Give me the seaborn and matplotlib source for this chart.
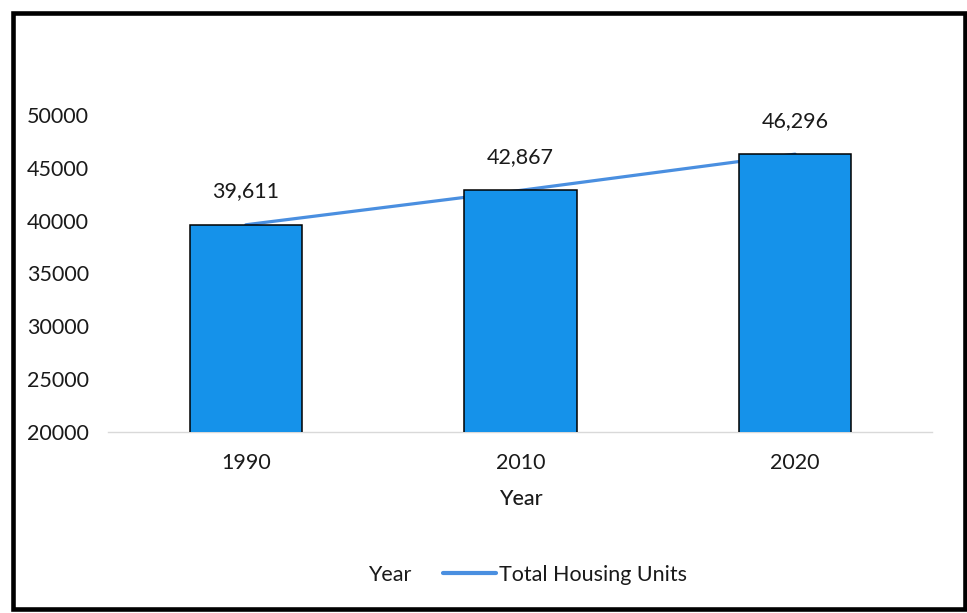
import matplotlib
matplotlib.use("Agg")
import numpy as np
import pandas as pd
import matplotlib.pyplot as plt
import seaborn as sns
from matplotlib.lines import Line2D
from matplotlib.patches import Rectangle

# Housing units by census year
years = ["1990", "2010", "2020"]
housing_units = [39611, 42867, 46296]
y_ticks = [20000, 25000, 30000, 35000, 40000, 45000, 50000]

BAR_COLOR = "#1592EA"
LINE_COLOR = "#4A8FE0"
TEXT_COLOR = "#1a1a1a"
FS = 15.5

sns.set_theme(style="white")
plt.rcParams["font.family"] = ["Lato", "DejaVu Sans"]

df = pd.DataFrame({"Year": years, "Units": housing_units})

fig = plt.figure(figsize=(9.67, 6.13), dpi=100)
ax = fig.add_axes([0.1122, 0.2953, 0.8521, 0.5171])

sns.barplot(data=df, x="Year", y="Units", order=years, color=BAR_COLOR,
            saturation=1, width=0.41, edgecolor="black", linewidth=1.1, ax=ax)
for p in ax.patches:
    p.set_zorder(3)

# Trend line through the bar tops, drawn behind the bars
sns.lineplot(x=np.arange(len(years)), y=housing_units, color=LINE_COLOR,
             linewidth=2.3, zorder=2, ax=ax, legend=False)

for i, v in enumerate(housing_units):
    ax.annotate(f"{v:,}", xy=(i, v), xytext=(0, 24), textcoords="offset points",
                ha="center", va="center", fontsize=FS, color=TEXT_COLOR)

ax.set_xlim(-0.5, len(years) - 0.5)
ax.set_ylim(y_ticks[0], y_ticks[-1])
ax.set_yticks(y_ticks)
ax.set_yticklabels([str(t) for t in y_ticks])
ax.tick_params(axis="y", length=0, pad=14, labelsize=FS, labelcolor=TEXT_COLOR)
ax.tick_params(axis="x", length=0, pad=15, labelsize=FS, labelcolor=TEXT_COLOR)
ax.set_xlabel("Year", fontsize=FS, color=TEXT_COLOR, labelpad=12, fontweight="medium")
ax.set_ylabel("")

for side in ["left", "right", "top"]:
    ax.spines[side].set_visible(False)
ax.spines["bottom"].set_color("#d9d9d9")
ax.spines["bottom"].set_linewidth(1.0)

handles = [
    Line2D([], [], color="none"),
    Line2D([], [], color=LINE_COLOR, linewidth=3),
]
fig.legend(handles, ["Year", "Total Housing Units"], loc="center",
           bbox_to_anchor=(0.5165, 0.062), ncol=2, frameon=False, fontsize=FS,
           handlelength=2.46, handletextpad=0.14, columnspacing=1.49,
           labelcolor=TEXT_COLOR)

# Chart frame
fig.patches.append(Rectangle((0.0134, 0.0065), 0.9846, 0.9725, transform=fig.transFigure,
                             fill=False, edgecolor="black", linewidth=3.3, zorder=10))

fig.savefig("out.png", dpi=100, facecolor="white")
